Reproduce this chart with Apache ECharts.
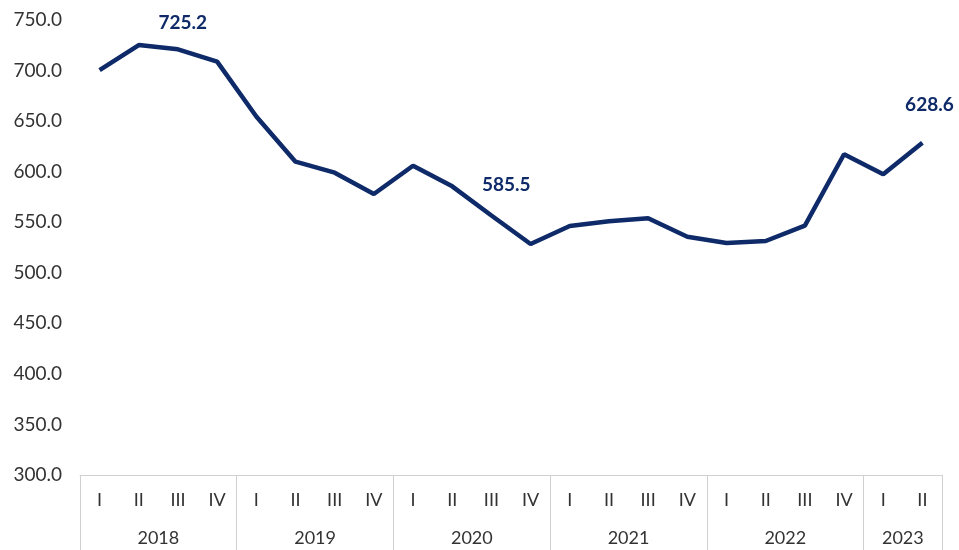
<!DOCTYPE html>
<html>
<head>
<meta charset="utf-8">
<script src="https://cdn.jsdelivr.net/npm/echarts@6/dist/echarts.min.js"></script>
<style>
  html, body { margin: 0; padding: 0; background: #fff; }
  #chart { width: 959px; height: 550px; }
</style>
</head>
<body>
<div id="chart"></div>
<script>
const quarters = ["I", "II", "III", "IV", "I", "II", "III", "IV", "I", "II", "III", "IV",
  "I", "II", "III", "IV", "I", "II", "III", "IV", "I", "II"];
const years = ["2018", "2019", "2020", "2021", "2022", "2023"];
const quartersPerYear = [4, 4, 4, 4, 4, 2];
const values = [700.5, 725.2, 721.0, 708.8, 654.5, 609.9, 599.0, 577.9, 605.9, 585.5, 556.6,
  528.5, 546.3, 551.0, 553.9, 535.7, 529.4, 531.4, 546.6, 617.2, 597.4, 628.6];
const yTicks = { min: 300, max: 750, step: 50 };

// year boundaries and year label centres, in quarter units
const yearEdges = [0];
const yearMids = [];
quartersPerYear.forEach((n) => {
  const start = yearEdges[yearEdges.length - 1];
  yearMids.push(start + n / 2);
  yearEdges.push(start + n);
});

const navy = "#0e2a68";
const grey = "#d0d0d0";
const textColor = "#333";
const font = "Lato";

// labelled points: index -> offset
const labelOffsets = { 1: [44, -8], 9: [54, 13], 21: [7, -23] };

const seriesData = values.map((v, i) => {
  if (labelOffsets[i] === undefined) {
    return v;
  }
  return {
    value: v,
    label: {
      show: true,
      position: "top",
      offset: labelOffsets[i],
      formatter: (p) => p.value.toFixed(1),
      color: navy,
      fontFamily: font,
      fontWeight: "bold",
      fontSize: 19,
    },
  };
});

const chart = echarts.init(document.getElementById("chart"));
const option = {
  animation: false,
  grid: { left: 80, right: 17, top: 20, bottom: 75 },
  xAxis: [
    {
      type: "category",
      data: quarters,
      position: "bottom",
      axisLine: { show: true, lineStyle: { color: grey, width: 1 } },
      axisTick: { show: false },
      axisLabel: { color: textColor, fontFamily: font, fontSize: 18, margin: 16 },
      splitLine: { show: false },
    },
    {
      type: "value",
      min: 0,
      max: quarters.length,
      position: "bottom",
      axisLine: { show: false },
      axisTick: {
        show: true,
        customValues: yearEdges,
        length: 80,
        lineStyle: { color: grey, width: 1 },
      },
      axisLabel: {
        customValues: yearMids,
        formatter: (v) => years[yearMids.indexOf(v)],
        color: textColor,
        fontFamily: font,
        fontSize: 18,
        margin: 54,
      },
      splitLine: { show: false },
    },
  ],
  yAxis: {
    type: "value",
    min: yTicks.min,
    max: yTicks.max,
    interval: yTicks.step,
    axisLine: { show: false },
    axisTick: { show: false },
    splitLine: { show: false },
    axisLabel: {
      formatter: (v) => v.toFixed(1),
      color: textColor,
      fontFamily: font,
      fontSize: 19,
      margin: 18,
    },
  },
  series: [
    {
      type: "line",
      xAxisIndex: 0,
      data: seriesData,
      symbol: "circle",
      symbolSize: 0.1,
      showSymbol: true,
      lineStyle: { color: navy, width: 4.5 },
      itemStyle: { color: navy },
    },
  ],
};

option && chart.setOption(option);
</script>
</body>
</html>
